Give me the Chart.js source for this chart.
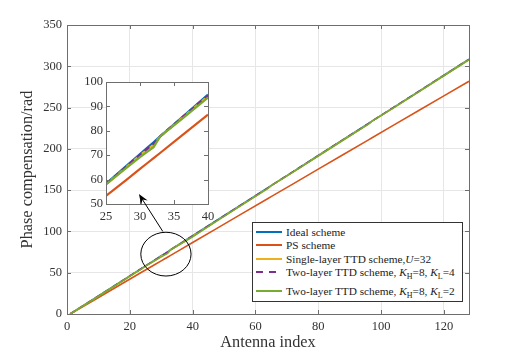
<!DOCTYPE html>
<html>
<head>
<meta charset="utf-8">
<script src="https://cdn.jsdelivr.net/npm/chart.js@4.4.0/dist/chart.umd.min.js"></script>
<style>
  html, body { margin: 0; padding: 0; background: #fff; }
  #wrap { position: relative; width: 518px; height: 354px; }
  #wrap canvas { position: absolute; left: 0; top: 0; }
  #inset { pointer-events: none; }
  #legend {
    position: absolute; left: 252px; top: 222px; width: 209px; height: 78px;
    border: 1px solid #333; background: #fff;
    font-family: "Liberation Serif", "Times New Roman", serif; font-size: 11.3px; color: #222;
  }
  #legend .row { position: absolute; left: 3px; white-space: nowrap; line-height: 12px; }
  #legend .sw { display: inline-block; width: 26px; height: 2px; vertical-align: middle; margin-right: 4px; position: relative; top: -1px; }
  #legend sub { font-size: 8px; vertical-align: -3px; line-height: 0; }
</style>
</head>
<body>
<div id="wrap">
  <canvas id="main" width="518" height="354"></canvas>
  <canvas id="inset" width="518" height="354"></canvas>
  <div id="legend">
    <div class="row" style="top:3px"><span class="sw" style="background:#0072BD"></span>Ideal scheme</div>
    <div class="row" style="top:16px"><span class="sw" style="background:#D95319"></span>PS scheme</div>
    <div class="row" style="top:29.5px"><span class="sw" style="background:#EDB120"></span>Single-layer TTD scheme,<i>U</i>=32</div>
    <div class="row" style="top:43px"><span class="sw" style="background:repeating-linear-gradient(90deg,#7E2F8E 0 7px,transparent 7px 13px)"></span>Two-layer TTD scheme, <i>K</i><sub>H</sub>=8, <i>K</i><sub>L</sub>=4</div>
    <div class="row" style="top:62px"><span class="sw" style="background:#77AC30"></span>Two-layer TTD scheme, <i>K</i><sub>H</sub>=8, <i>K</i><sub>L</sub>=2</div>
  </div>
</div>
<script>
"use strict";

/* ---- data ---- */
const antennaIdx = [1, 8, 16, 24, 25, 28, 30, 31, 32, 33, 36, 40, 48, 56, 64, 65, 72, 80, 88, 96, 97, 104, 112, 120, 128];
const idealPhase = [0, 17.0, 36.5, 55.9, 58.3, 65.6, 70.5, 72.9, 75.3, 77.8, 85.1, 94.8, 114.2, 133.7, 153.1, 155.5, 172.5, 192.0, 211.4, 230.9, 233.3, 250.3, 269.7, 289.2, 308.6];
const psPhase    = [0, 15.5, 33.3, 51.1, 53.3, 59.9, 64.4, 66.6, 68.8, 71.0, 77.7, 86.6, 104.3, 122.1, 139.9, 142.1, 157.6, 175.4, 193.1, 210.9, 213.1, 228.7, 246.4, 264.2, 281.9];
const singleTTD  = [0, 16.8, 36.1, 55.5, 58.0, 65.1, 69.9, 72.1, 74.2, 77.8, 84.8, 94.2, 113.7, 133.1, 152.4, 155.5, 172.2, 191.6, 211.0, 230.2, 233.3, 250.0, 269.4, 288.8, 308.2];
const twoLayerL4 = [0, 16.9, 36.3, 55.7, 58.2, 65.4, 70.2, 72.5, 74.8, 77.8, 85.0, 94.5, 114.0, 133.4, 152.7, 155.5, 172.4, 191.8, 211.2, 230.5, 233.3, 250.2, 269.5, 288.9, 308.4];
const twoLayerL2 = [0, 16.7, 36.0, 55.3, 58.0, 64.8, 69.2, 71.3, 73.3, 77.8, 84.5, 93.6, 113.3, 132.8, 152.2, 155.5, 171.9, 191.3, 210.7, 230.0, 233.3, 249.7, 269.1, 288.5, 308.0];

const xTicksMain = [0, 20, 40, 60, 80, 100, 120];
const yTicksMain = [0, 50, 100, 150, 200, 250, 300, 350];
const xTicksInset = [25, 30, 35, 40];
const yTicksInset = [50, 60, 70, 80, 90, 100];

/* zoom marker: ellipse centre/radii and arrow, in data units of the main axes */
const zoomEllipse = { x: 31.5, y: 72.5, rx: 8, ry: 26.5 };
const zoomArrow   = { from: [30.5, 100], to: [22.9, 145.3] };

const SERIF = "'Liberation Serif', 'Times New Roman', serif";
const toPts = ys => antennaIdx.map((x, i) => ({ x, y: ys[i] }));

function series(width) {
  return [
    { label: "Ideal scheme", data: toPts(idealPhase), borderColor: "#0072BD", order: 4 },
    { label: "PS scheme", data: toPts(psPhase), borderColor: "#D95319", order: 3 },
    { label: "Single-layer TTD scheme, U=32", data: toPts(singleTTD), borderColor: "#EDB120", order: 2 },
    { label: "Two-layer TTD scheme, KH=8, KL=4", data: toPts(twoLayerL4), borderColor: "#7E2F8E", borderDash: [6, 4], order: 1 },
    { label: "Two-layer TTD scheme, KH=8, KL=2", data: toPts(twoLayerL2), borderColor: "#77AC30", order: 0 },
  ].map(d => Object.assign({ borderWidth: width, pointRadius: 0, tension: 0, fill: false }, d));
}

/* ---- box + inward ticks, MATLAB style ---- */
const boxPlugin = {
  id: "box",
  beforeDraw(chart, args, opts) {
    if (!opts.fillArea) return;
    const a = chart.chartArea, c = chart.ctx;
    c.save(); c.fillStyle = "#fff"; c.fillRect(a.left, a.top, a.right - a.left, a.bottom - a.top); c.restore();
  },
  afterDatasetsDraw(chart) {
    const a = chart.chartArea, c = chart.ctx;
    const { x, y } = chart.scales;
    c.save();
    c.strokeStyle = "#6e6e6e"; c.lineWidth = 1;
    c.beginPath();
    x.ticks.forEach(t => {
      const px = Math.round(x.getPixelForValue(t.value)) + 0.5;
      c.moveTo(px, a.bottom); c.lineTo(px, a.bottom - 4);
      c.moveTo(px, a.top); c.lineTo(px, a.top + 4);
    });
    y.ticks.forEach(t => {
      const py = Math.round(y.getPixelForValue(t.value)) + 0.5;
      c.moveTo(a.left, py); c.lineTo(a.left + 4, py);
      c.moveTo(a.right, py); c.lineTo(a.right - 4, py);
    });
    c.stroke();
    c.strokeRect(Math.round(a.left) + 0.5, Math.round(a.top) + 0.5, Math.round(a.right - a.left), Math.round(a.bottom - a.top));
    c.restore();
  },
};

/* ---- ellipse on the main chart ---- */
const ellipsePlugin = {
  id: "zoomEllipse",
  afterDatasetsDraw(chart) {
    const { x, y } = chart.scales, c = chart.ctx;
    const cx = x.getPixelForValue(zoomEllipse.x), cy = y.getPixelForValue(zoomEllipse.y);
    const rx = x.getPixelForValue(zoomEllipse.x + zoomEllipse.rx) - cx;
    const ry = cy - y.getPixelForValue(zoomEllipse.y + zoomEllipse.ry);
    c.save();
    c.strokeStyle = "#000"; c.lineWidth = 1;
    c.beginPath(); c.ellipse(cx, cy, rx, ry, 0, 0, Math.PI * 2); c.stroke();
    c.restore();
  },
};

let mainChart = null;

/* ---- arrow, drawn on the inset layer so the head sits over the inset box ---- */
const arrowPlugin = {
  id: "zoomArrow",
  afterDraw(chart) {
    if (!mainChart) return;
    const { x, y } = mainChart.scales, c = chart.ctx;
    const x0 = x.getPixelForValue(zoomArrow.from[0]), y0 = y.getPixelForValue(zoomArrow.from[1]);
    const x1 = x.getPixelForValue(zoomArrow.to[0]), y1 = y.getPixelForValue(zoomArrow.to[1]);
    const ang = Math.atan2(y1 - y0, x1 - x0), len = 11, wing = 0.36;
    c.save();
    c.strokeStyle = "#000"; c.fillStyle = "#000"; c.lineWidth = 1;
    c.beginPath(); c.moveTo(x0, y0); c.lineTo(x1 - Math.cos(ang) * 6, y1 - Math.sin(ang) * 6); c.stroke();
    c.beginPath();
    c.moveTo(x1, y1);
    c.lineTo(x1 - len * Math.cos(ang - wing), y1 - len * Math.sin(ang - wing));
    c.lineTo(x1 - len * 0.6 * Math.cos(ang), y1 - len * 0.6 * Math.sin(ang));
    c.lineTo(x1 - len * Math.cos(ang + wing), y1 - len * Math.sin(ang + wing));
    c.closePath(); c.fill();
    c.restore();
  },
};

const tickFont = { family: SERIF, size: 12.5 };
const titleFont = { family: SERIF, size: 16.3 };

function axis(min, max, tickVals, opts) {
  return Object.assign({
    type: "linear", min, max,
    afterBuildTicks: s => { s.ticks = tickVals.map(v => ({ value: v })); },
    grid: { color: "#e6e6e6", lineWidth: 1, drawTicks: false },
    border: { display: false },
    ticks: { color: "#333", font: tickFont, padding: 5 },
  }, opts);
}

Chart.defaults.animation = false;
Chart.defaults.font.family = SERIF;

mainChart = new Chart(document.getElementById("main"), {
  type: "line",
  data: { datasets: series(1.6) },
  plugins: [boxPlugin, ellipsePlugin],
  options: {
    responsive: false,
    layout: { padding: { left: 18, right: 49, top: 25, bottom: 0 } },
    plugins: { legend: { display: false }, tooltip: { enabled: false }, box: {} },
    scales: {
      x: axis(0, 128, xTicksMain, {
        afterFit: s => { s.height = 40; },
        title: { display: true, text: "Antenna index", color: "#333", font: titleFont, padding: { top: 0, bottom: 1 } },
      }),
      y: axis(0, 350, yTicksMain, {
        afterFit: s => { s.width = 49; },
        title: { display: true, text: "Phase compensation/rad", color: "#333", font: titleFont, padding: { top: 0, bottom: 0 } },
      }),
    },
  },
});

/* ---- inset: zoom on antennas 25-40 ---- */
new Chart(document.getElementById("inset"), {
  type: "line",
  data: { datasets: series(2.2) },
  plugins: [boxPlugin, arrowPlugin],
  options: {
    responsive: false,
    layout: { padding: { left: 70, right: 310, top: 82, bottom: 128 } },
    plugins: { legend: { display: false }, tooltip: { enabled: false }, box: { fillArea: true } },
    scales: {
      x: axis(25, 40, xTicksInset, {
        grid: { display: false, drawTicks: false },
        afterFit: s => { s.height = 22; },
        ticks: { color: "#333", font: tickFont, padding: 5 },
      }),
      y: axis(50, 100, yTicksInset, {
        grid: { display: false, drawTicks: false },
        afterFit: s => { s.width = 36; },
        ticks: { color: "#333", font: tickFont, padding: 3 },
      }),
    },
  },
});
</script>
</body>
</html>
